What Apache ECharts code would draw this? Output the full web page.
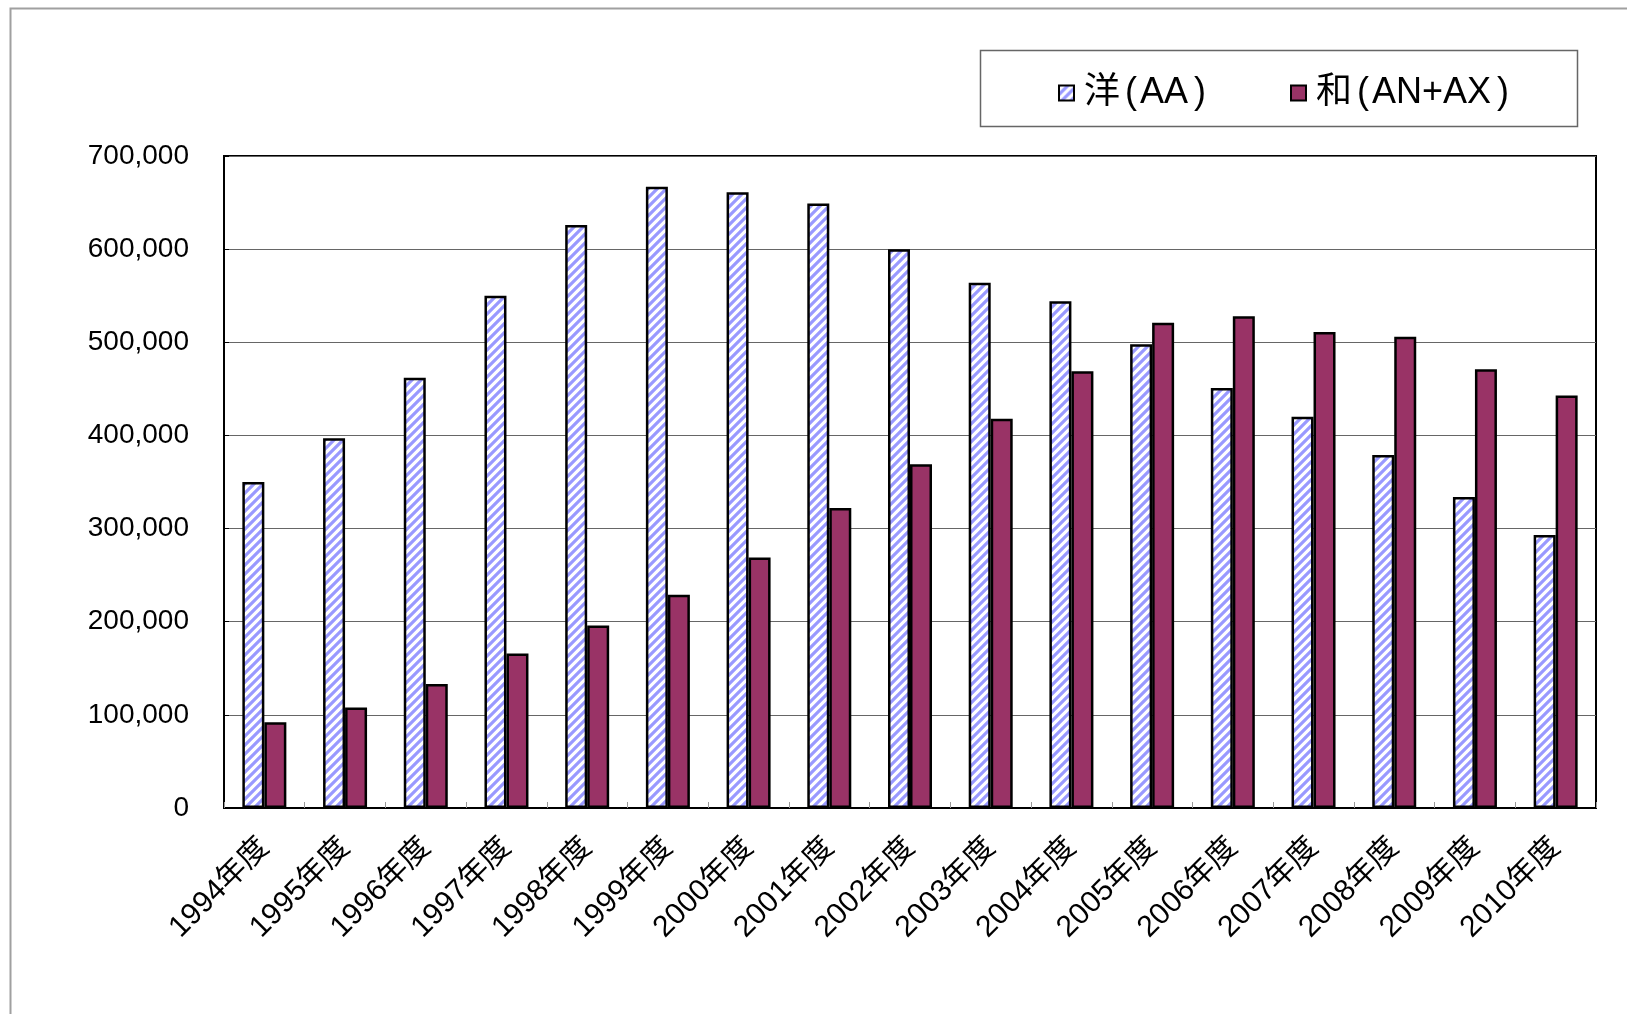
<!DOCTYPE html>
<html><head><meta charset="utf-8">
<script src="https://cdn.jsdelivr.net/npm/echarts@6/dist/echarts.min.js"></script>
<style>html,body{margin:0;padding:0;background:#fff}#c{width:1627px;height:1014px}</style>
</head><body><div id="c"></div>
<script>
const categories = ['1994年度','1995年度','1996年度','1997年度','1998年度','1999年度','2000年度','2001年度','2002年度','2003年度','2004年度','2005年度','2006年度','2007年度','2008年度','2009年度','2010年度'];
const youValues = [350000, 397000, 462000, 550000, 626000, 667000, 661000, 649000, 600000, 564000, 544000, 498000, 451000, 420000, 379000, 334000, 293000];
const waValues = [92000, 108000, 133000, 166000, 196000, 229000, 269000, 322000, 369000, 418000, 469000, 521000, 528000, 511000, 506000, 471000, 443000];
const seriesNames = ['洋(AA)', '和(AN+AX)'];
const yMin = 0, yMax = 700000, yStep = 100000;

const FONT = "'Liberation Sans', 'Noto Sans CJK JP', sans-serif";

// hatch pattern for 洋
const P = 9;
const pc = document.createElement('canvas');
pc.width = P; pc.height = P;
const ctx = pc.getContext('2d');
ctx.fillStyle = '#ffffff'; ctx.fillRect(0, 0, P, P);
ctx.strokeStyle = '#9999ff'; ctx.lineWidth = 3.2;
ctx.beginPath();
ctx.moveTo(-2, P + 2); ctx.lineTo(P + 2, -2);
ctx.moveTo(-2, 2); ctx.lineTo(2, -2);
ctx.moveTo(P - 2, P + 2); ctx.lineTo(P + 2, P - 2);
ctx.stroke();

// legend label: name split into CJK head + parenthesised part
function legendFmt(name) {
  const i = name.indexOf('(');
  const head = name.slice(0, i), inner = name.slice(i + 1, name.length - 1);
  return '{h|' + head + '}{p|(}{t|' + inner + '}{q|)}';
}
const legendRich = {
  h: {fontSize: 36, fontFamily: FONT, color: '#000'},
  p: {fontSize: 36, fontFamily: FONT, color: '#000', padding: [0, 3, 0, 5]},
  t: {fontSize: 36, fontFamily: FONT, color: '#000'},
  q: {fontSize: 36, fontFamily: FONT, color: '#000', padding: [0, 0, 0, 6]}
};

const chart = echarts.init(document.getElementById('c'), null, {renderer: 'canvas'});
chart.setOption({
  animation: false,
  backgroundColor: '#ffffff',
  textStyle: {fontFamily: FONT},
  graphic: [
    {type: 'rect', z: 0, silent: true, shape: {x: 10.5, y: 8.5, width: 1700, height: 1100},
     style: {fill: 'none', stroke: '#a0a0a0', lineWidth: 2}},
    {type: 'rect', z: 0, silent: true, shape: {x: 980.5, y: 50.5, width: 597, height: 76},
     style: {fill: 'none', stroke: '#666666', lineWidth: 1.5}}
  ],
  legend: [
    {data: [seriesNames[0]], left: 1058, top: 75, padding: 0, icon: 'rect', itemWidth: 15, itemHeight: 15,
     formatter: legendFmt, textStyle: {fontSize: 36, color: '#000', fontFamily: FONT, padding: [0, 0, 0, 5], rich: legendRich}},
    {data: [seriesNames[1]], left: 1290, top: 75, padding: 0, icon: 'rect', itemWidth: 15, itemHeight: 15,
     formatter: legendFmt, textStyle: {fontSize: 36, color: '#000', fontFamily: FONT, padding: [0, 0, 0, 5], rich: legendRich}}
  ],
  grid: {left: 224, top: 156, width: 1372, height: 652, show: true, borderColor: '#000', borderWidth: 2, backgroundColor: 'transparent'},
  xAxis: {
    type: 'category', data: categories, boundaryGap: true,
    axisLine: {lineStyle: {color: '#000', width: 2}},
    axisTick: {show: true, inside: true, length: 6, lineStyle: {color: '#999', width: 1}},
    axisLabel: {interval: 0, rotate: 45, margin: 35, fontSize: 30, color: '#000', fontFamily: FONT}
  },
  yAxis: {
    type: 'value', min: yMin, max: yMax, interval: yStep,
    axisLine: {show: true, lineStyle: {color: '#000', width: 2}},
    axisTick: {show: true, inside: true, length: 5, lineStyle: {color: '#000'}},
    splitLine: {lineStyle: {color: '#666', width: 1}},
    axisLabel: {margin: 35, fontSize: 28, color: '#000', fontFamily: FONT, padding: [8, 0, 0, 0],
      formatter: v => String(v).replace(/\B(?=(\d{3})+(?!\d))/g, ',')}
  },
  series: [
    {name: seriesNames[0], type: 'bar', data: youValues, barWidth: 22, barGap: '0%',
     itemStyle: {color: {image: pc, repeat: 'repeat'}, borderColor: '#000', borderWidth: 2.5}},
    {name: seriesNames[1], type: 'bar', data: waValues, barWidth: 22, barGap: '0%',
     itemStyle: {color: '#993366', borderColor: '#000', borderWidth: 2.5}}
  ]
});
</script>
</body></html>
